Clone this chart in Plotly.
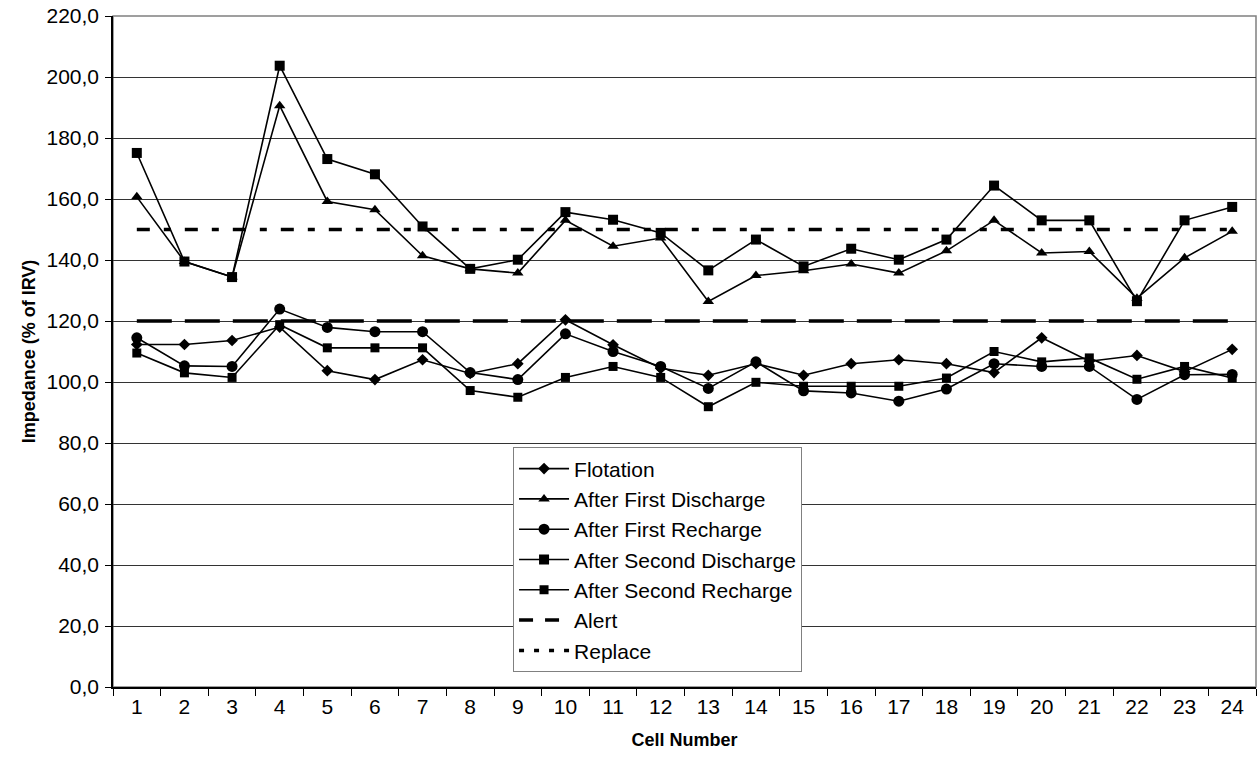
import plotly.graph_objects as go

cells = [str(i) for i in range(1, 25)]

flotation = [112.3, 112.3, 113.6, 118.0, 103.7, 100.8, 107.3, 102.8, 106.0, 120.4, 112.2, 104.5,
             102.2, 106.0, 102.2, 106.0, 107.3, 106.0, 103.1, 114.5, 106.8, 108.7, 103.4, 110.7]
first_discharge = [160.7, 139.5, 134.4, 190.6, 159.2, 156.5, 141.4, 137.1, 135.7, 153.0, 144.5, 147.2,
                   126.4, 134.9, 136.5, 138.7, 135.7, 143.0, 153.0, 142.3, 142.8, 127.5, 140.7, 149.4]
first_recharge = [114.5, 105.3, 105.1, 123.9, 117.9, 116.5, 116.5, 103.1, 100.8, 115.8, 110.0, 105.1,
                  97.9, 106.6, 97.1, 96.4, 93.7, 97.7, 106.0, 105.1, 105.1, 94.3, 102.4, 102.5]
second_discharge = [175.1, 139.5, 134.4, 203.7, 173.1, 168.1, 151.0, 137.1, 140.1, 155.7, 153.2, 148.9,
                    136.6, 146.7, 137.9, 143.7, 140.1, 146.7, 164.4, 153.0, 153.0, 126.5, 153.0, 157.4]
second_recharge = [109.5, 103.0, 101.5, 118.8, 111.2, 111.2, 111.2, 97.2, 95.0, 101.5, 105.1, 101.5,
                   91.9, 99.9, 98.6, 98.6, 98.6, 101.3, 110.0, 106.6, 107.9, 100.9, 105.1, 101.3]
alert = [120.0] * 24
replace = [150.0] * 24

y_ticks = [0, 20, 40, 60, 80, 100, 120, 140, 160, 180, 200, 220]

FONT = "Arial, Liberation Sans, sans-serif"

fig = go.Figure()

series = [
    ("Flotation", flotation, "diamond", 9),
    ("After First Discharge", first_discharge, "triangle-up", 10),
    ("After First Recharge", first_recharge, "circle", 11),
    ("After Second Discharge", second_discharge, "square", 10),
    ("After Second Recharge", second_recharge, "square", 9),
]
for name, vals, sym, size in series:
    fig.add_trace(go.Scatter(
        x=cells, y=vals, name=name, mode="lines+markers",
        line=dict(color="black", width=1.6),
        marker=dict(symbol=sym, size=size, color="black", line=dict(width=0)),
    ))

# threshold lines (legend shown through proxy entries with a shorter dash pattern)
fig.add_trace(go.Scatter(
    x=cells, y=alert, name="Alert", mode="lines", showlegend=False,
    line=dict(color="black", width=3.5, dash="35px,13px"),
))
fig.add_trace(go.Scatter(
    x=cells, y=replace, name="Replace", mode="lines", showlegend=False,
    line=dict(color="black", width=3.5, dash="13px,14px,7px,14px"),
))
fig.add_trace(go.Scatter(
    x=[None], y=[None], name="Alert", mode="lines",
    line=dict(color="black", width=3.5, dash="14px,12px"),
))
fig.add_trace(go.Scatter(
    x=[None], y=[None], name="Replace", mode="lines",
    line=dict(color="black", width=3.5, dash="5px,10px"),
))

fig.update_layout(
    width=1257, height=767,
    margin=dict(l=113, r=1, t=16, b=80),
    paper_bgcolor="white", plot_bgcolor="white",
    separators=", ",
    font=dict(family=FONT, size=21, color="black"),
    showlegend=True,
    legend=dict(
        x=0.35, y=0.357, xanchor="left", yanchor="top",
        bgcolor="white", bordercolor="#808080", borderwidth=1,
        font=dict(family=FONT, size=21, color="black"),
        tracegroupgap=0, itemwidth=50,
    ),
    shapes=[dict(type="rect", xref="paper", yref="paper", x0=0, x1=1, y0=0, y1=1,
                 line=dict(color="#808080", width=1.5), layer="below")],
)

fig.update_xaxes(
    type="category", range=[-0.5, 23.5], autorange=False,
    tickson="boundaries", ticks="outside", ticklen=7,
    tickcolor="black", tickwidth=1,
    showline=True, linecolor="black", linewidth=1.5,
    showgrid=False, zeroline=False,
    tickfont=dict(family=FONT, size=21, color="black"),
    title=dict(text="<b>Cell Number</b>", font=dict(family=FONT, size=18, color="black"), standoff=16),
)
fig.update_yaxes(
    range=[0, 220], tickvals=y_ticks, tickformat=".1f",
    ticks="outside", ticklen=6, tickcolor="black", tickwidth=1,
    showline=True, linecolor="black", linewidth=1.5,
    showgrid=True, gridcolor="#333333", gridwidth=1, zeroline=False,
    tickfont=dict(family=FONT, size=21, color="black"),
    ticklabelstandoff=2,
    title=dict(text="<b>Impedance (% of IRV)</b>", font=dict(family=FONT, size=18, color="black"), standoff=6),
)

fig.write_html("out.html")
